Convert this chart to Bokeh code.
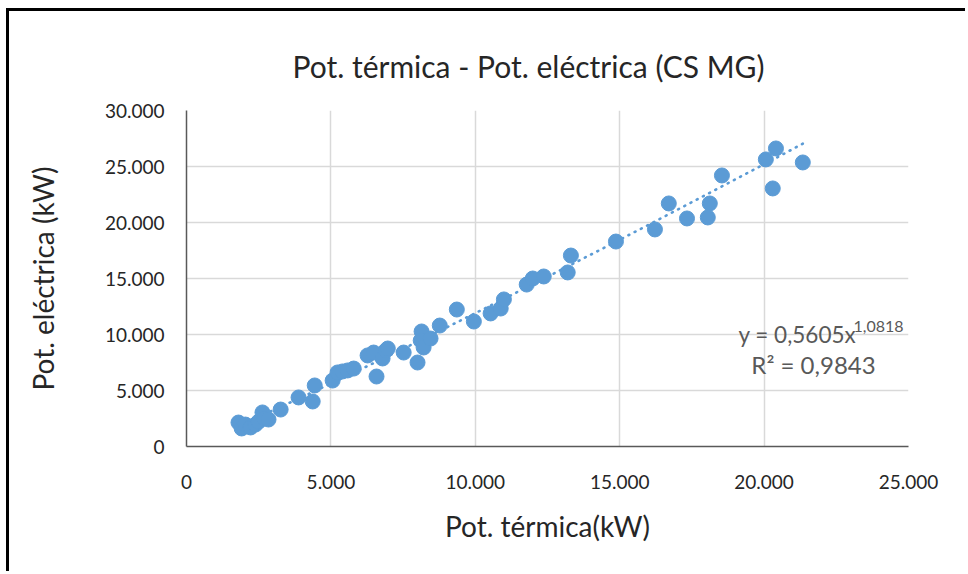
import numpy as np
from bokeh.plotting import figure
from bokeh.models import Label, Range1d, CustomJSTickFormatter, FixedTicker
from bokeh.embed import file_html
from bokeh.resources import INLINE

# Measured pairs: thermal power (x) vs electrical power (y), in kW
termica_kw = [1800, 1910, 2040, 2220, 2390, 2500, 2630, 2700, 2840, 3260,
              3880, 4370, 4440, 5060, 5230, 5400, 5580, 5790, 6270, 6480,
              6580, 6790, 6900, 6970, 7520, 8000, 8140, 8110, 8210, 8450,
              8770, 9360, 9950, 10530, 10880, 10990, 11780, 11990, 12370, 13200,
              13310, 14870, 16220, 16700, 17330, 18050, 18120, 18540, 20060, 20410,
              20300, 21340]
electrica_kw = [2140, 1610, 1960, 1700, 1960, 2230, 3040, 2500, 2410, 3300,
                4380, 4020, 5450, 5890, 6610, 6700, 6790, 6960, 8130, 8390,
                6250, 7860, 8570, 8750, 8390, 7500, 10270, 9460, 8840, 9640,
                10800, 12230, 11160, 11880, 12320, 13130, 14460, 15000, 15180, 15540,
                17050, 18300, 19380, 21700, 20360, 20450, 21700, 24200, 25630, 26610,
                23040, 25360]

# Power-law fit coefficients (y = a * x^b)
fit_a = 0.5605
fit_b = 1.0818
fit_r2 = "0,9843"

x_ticks = [0, 5000, 10000, 15000, 20000, 25000]
y_ticks = [0, 5000, 10000, 15000, 20000, 25000, 30000]

BLUE = "#5B9BD5"
TEXT = "#262626"
GRAY = "#595959"
FONT = "Lato"

p = figure(width=959, height=563, output_backend="svg", toolbar_location=None,
           x_range=Range1d(0, 25000), y_range=Range1d(0, 30000),
           min_border_left=177, min_border_right=60,
           min_border_top=99, min_border_bottom=128,
           title="Pot. térmica - Pot. eléctrica (CS MG)")
p.styles = {"margin-left": "6px", "margin-top": "8px",
            "border-left": "3px solid #000", "border-top": "3px solid #000"}
p.outline_line_color = None
p.background_fill_color = "white"
p.border_fill_color = "white"

p.title.align = "left"
p.title.offset = 106
p.title.standoff = 54
p.title.text_font = FONT
p.title.text_font_size = "30px"
p.title.text_font_style = "normal"
p.title.text_color = TEXT

thousands = CustomJSTickFormatter(code="""
    const s = Math.round(tick).toString();
    return s.replace(/\\B(?=(\\d{3})+(?!\\d))/g, '.');
""")

for ax, ticks in ((p.xaxis[0], x_ticks), (p.yaxis[0], y_ticks)):
    ax.ticker = FixedTicker(ticks=ticks)
    ax.formatter = thousands
    ax.axis_line_color = GRAY
    ax.axis_line_width = 1.5
    ax.major_tick_line_color = None
    ax.minor_tick_line_color = None
    ax.major_label_text_font = FONT
    ax.major_label_text_font_size = "19px"
    ax.major_label_text_color = TEXT
    ax.axis_label_text_font = FONT
    ax.axis_label_text_font_size = "28px"
    ax.axis_label_text_font_style = "normal"
    ax.axis_label_text_color = TEXT

p.xaxis.axis_label = "Pot. térmica(kW)"
p.yaxis.axis_label = "Pot. eléctrica (kW)"
p.xaxis.major_label_standoff = 22
p.yaxis.major_label_standoff = 16
p.xaxis.axis_label_standoff = 17
p.yaxis.axis_label_standoff = 42

p.xgrid.ticker = FixedTicker(ticks=x_ticks)
p.ygrid.ticker = FixedTicker(ticks=y_ticks)
p.grid.grid_line_color = "#D9D9D9"
p.grid.grid_line_width = 1.5

# Power-law trendline across the measured thermal range
xf = np.linspace(min(termica_kw), max(termica_kw), 200)
yf = fit_a * xf ** fit_b
p.line(xf, yf, line_color=BLUE, line_width=2.6, line_dash="1 6", line_cap="round")

p.scatter(termica_kw, electrica_kw, size=15, fill_color=BLUE, line_color=BLUE)

# Fit equation and R², positioned in pixels from the frame's lower-left corner
p.add_layout(Label(x=552, y=112, x_units="screen", y_units="screen",
                   text="y = %s" % ("%.4f" % fit_a).replace(".", ",") + "x",
                   text_font=FONT, text_font_size="22.5px", text_color=GRAY,
                   text_align="left", text_baseline="middle"))
p.add_layout(Label(x=667, y=120, x_units="screen", y_units="screen",
                   text=("%.4f" % fit_b).replace(".", ","),
                   text_font=FONT, text_font_size="16px", text_color=GRAY,
                   text_align="left", text_baseline="middle"))
p.add_layout(Label(x=627, y=82, x_units="screen", y_units="screen",
                   text="R² = " + fit_r2,
                   text_font=FONT, text_font_size="24px", text_color=GRAY,
                   text_align="center", text_baseline="middle"))

open("out.html", "w").write(file_html(p, INLINE))
